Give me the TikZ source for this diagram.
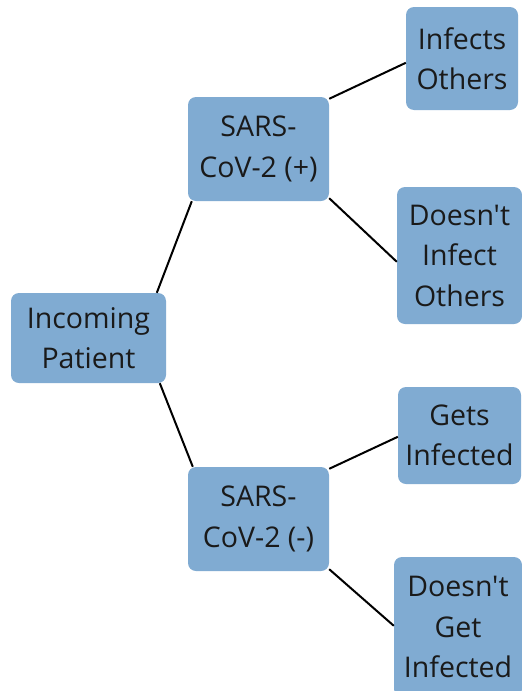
\documentclass[tikz,border=0pt]{standalone}
\usepackage{fontspec}
\setmainfont{Open Sans}[Ligatures=TeXOff]
\usetikzlibrary{calc}
\definecolor{boxblue}{RGB}{128,171,210}
\definecolor{txt}{RGB}{26,26,26}
\tikzset{
  box/.style={fill=boxblue, rounded corners=8pt, inner sep=0pt, align=center,
    text=txt, font=\fontsize{28.5pt}{40.5pt}\selectfont},
  link/.style={line width=2pt, black}
}
\begin{document}
\begin{tikzpicture}[x=1pt,y=-1pt]
\useasboundingbox (0,0) rectangle (522,691);
\node[box, minimum width=155pt, minimum height=90pt] (inc) at (88.5,338) {Incoming\\Patient};
\node[box, minimum width=141pt, minimum height=104pt] (pos) at (258.5,149) {SARS-\\CoV-2 (+)};
\node[box, minimum width=141pt, minimum height=104pt] (neg) at (258.5,519) {SARS-\\CoV-2 (-)};
\node[box, minimum width=112pt, minimum height=103pt] (inf) at (462,58.5) {Infects\\Others};
\node[box, minimum width=125pt, minimum height=137pt] (dinf) at (459.5,255.5) {Doesn't\\Infect\\Others};
\node[box, minimum width=123pt, minimum height=97pt] (gets) at (459.5,435.5) {Gets\\Infected};
\node[box, minimum width=128pt, minimum height=140pt] (dget) at (458,627) {Doesn't\\Get\\Infected};
\draw[link] ($(inc.north west)+(146,0)$) -- ($(pos.south west)+(4,0)$);
\draw[link] ($(inc.south west)+(149,0)$) -- ($(neg.north west)+(5,0)$);
\draw[link] ($(pos.north east)+(0,2)$) -- ($(inf.north west)+(0,56)$);
\draw[link] ($(pos.south east)+(0,-3)$) -- ($(dinf.north west)+(0,75)$);
\draw[link] ($(neg.north east)+(0,2)$) -- ($(gets.north west)+(0,50)$);
\draw[link] ($(neg.south east)+(0,-2)$) -- ($(dget.north west)+(0,69)$);
\end{tikzpicture}
\end{document}
